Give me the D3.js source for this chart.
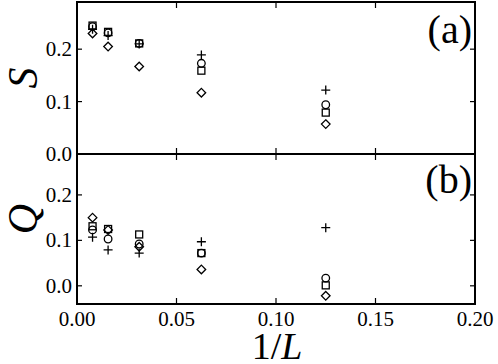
<!DOCTYPE html>
<html><head><meta charset="utf-8">
<script src="https://cdn.jsdelivr.net/npm/d3@7"></script>
<style>body{margin:0;background:#fff}svg{display:block}</style>
</head><body><svg id="c" width="498" height="364"></svg>
<script>
const invL = [0.125, 0.0625, 0.03125, 0.015625, 0.0078125];
const S_plus    = [0.122, 0.189, 0.210, 0.226, 0.238];
const S_circle  = [0.094, 0.173, 0.211, 0.231, 0.243];
const S_square  = [0.079, 0.159, 0.211, 0.233, 0.245];
const S_diamond = [0.057, 0.117, 0.167, 0.205, 0.230];
const Q_plus    = [0.128, 0.097, 0.072, 0.079, 0.107];
const Q_circle  = [0.017, 0.072, 0.092, 0.103, 0.123];
const Q_square  = [0.001, 0.072, 0.113, 0.125, 0.131];
const Q_diamond = [-0.022, 0.036, 0.086, 0.123, 0.150];
const xTicks = [0, 0.05, 0.10, 0.15, 0.20];
const sTicks = [0, 0.1, 0.2];
const qTicks = [0, 0.1, 0.2];

const FONT = "'Liberation Serif', 'Times New Roman', Times, serif";
const svg = d3.select("#c");
const L = 77, R = 475, T = 2, M = 154, B = 304;
const x = d3.scaleLinear().domain([0, 0.2]).range([L, R]);
const yS = d3.scaleLinear().domain([0, 0.29]).range([M, T]);
const yQ = d3.scaleLinear().domain([-0.04, 0.29]).range([B, M]);

function txt(xp, yp, s, size, anchor) {
  return svg.append("text").attr("x", xp).attr("y", yp).attr("text-anchor", anchor || "middle")
    .attr("font-family", FONT).attr("font-size", size).attr("fill", "#000").text(s);
}

function panel(y, ticks, top, bottom) {
  ticks.forEach(t => {
    svg.append("line").attr("x1", L).attr("x2", L + 5).attr("y1", y(t)).attr("y2", y(t)).attr("stroke", "#000").attr("stroke-width", 1.2);
    svg.append("line").attr("x1", R).attr("x2", R - 5).attr("y1", y(t)).attr("y2", y(t)).attr("stroke", "#000").attr("stroke-width", 1.2);
    txt(L - 5, y(t) + 7, d3.format(".1f")(t), 21, "end");
  });
  xTicks.forEach(t => {
    svg.append("line").attr("x1", x(t)).attr("x2", x(t)).attr("y1", top).attr("y2", top + 6).attr("stroke", "#000").attr("stroke-width", 1.2);
    svg.append("line").attr("x1", x(t)).attr("x2", x(t)).attr("y1", bottom).attr("y2", bottom - 6).attr("stroke", "#000").attr("stroke-width", 1.2);
  });
}
panel(yS, sTicks, T, M);
panel(yQ, qTicks, M, B);

svg.append("rect").attr("x", L).attr("y", T).attr("width", R - L).attr("height", B - T).attr("fill", "none").attr("stroke", "#000").attr("stroke-width", 2);
svg.append("line").attr("x1", L).attr("x2", R).attr("y1", M).attr("y2", M).attr("stroke", "#000").attr("stroke-width", 2);

xTicks.forEach(t => txt(x(t), B + 22, d3.format(".2f")(t), 21));

function marker(kind, cx, cy) {
  const g = svg.append("g").attr("fill", "none").attr("stroke", "#000").attr("stroke-width", 1.3);
  if (kind === "circle") g.append("circle").attr("cx", cx).attr("cy", cy).attr("r", 3.8);
  else if (kind === "square") g.append("rect").attr("x", cx - 3.5).attr("y", cy - 3.5).attr("width", 7).attr("height", 7);
  else if (kind === "diamond") g.append("path").attr("d", `M${cx},${cy-4.3}L${cx+4.3},${cy}L${cx},${cy+4.3}L${cx-4.3},${cy}Z`);
  else g.append("path").attr("d", `M${cx-4.5},${cy}H${cx+4.5}M${cx},${cy-4.5}V${cy+4.5}`);
}
const sets = [
  [yS, S_square, "square"], [yS, S_circle, "circle"], [yS, S_diamond, "diamond"], [yS, S_plus, "plus"],
  [yQ, Q_square, "square"], [yQ, Q_circle, "circle"], [yQ, Q_diamond, "diamond"], [yQ, Q_plus, "plus"]
];
sets.forEach(([y, vals, kind]) => vals.forEach((v, i) => marker(kind, x(invL[i]), y(v))));

txt(472, 43, "(a)", 40, "end");
txt(472, 193, "(b)", 40, "end");
svg.append("text").attr("transform", "translate(37,78) rotate(-90)").attr("text-anchor", "middle")
  .attr("font-family", FONT).attr("font-size", 42).attr("font-style", "italic").text("S");
svg.append("text").attr("transform", "translate(37,219) rotate(-90)").attr("text-anchor", "middle")
  .attr("font-family", FONT).attr("font-size", 42).attr("font-style", "italic").text("Q");
const xl = txt(277, 359, "", 38);
xl.append("tspan").text("1/");
xl.append("tspan").attr("font-style", "italic").text("L");
</script></body></html>
